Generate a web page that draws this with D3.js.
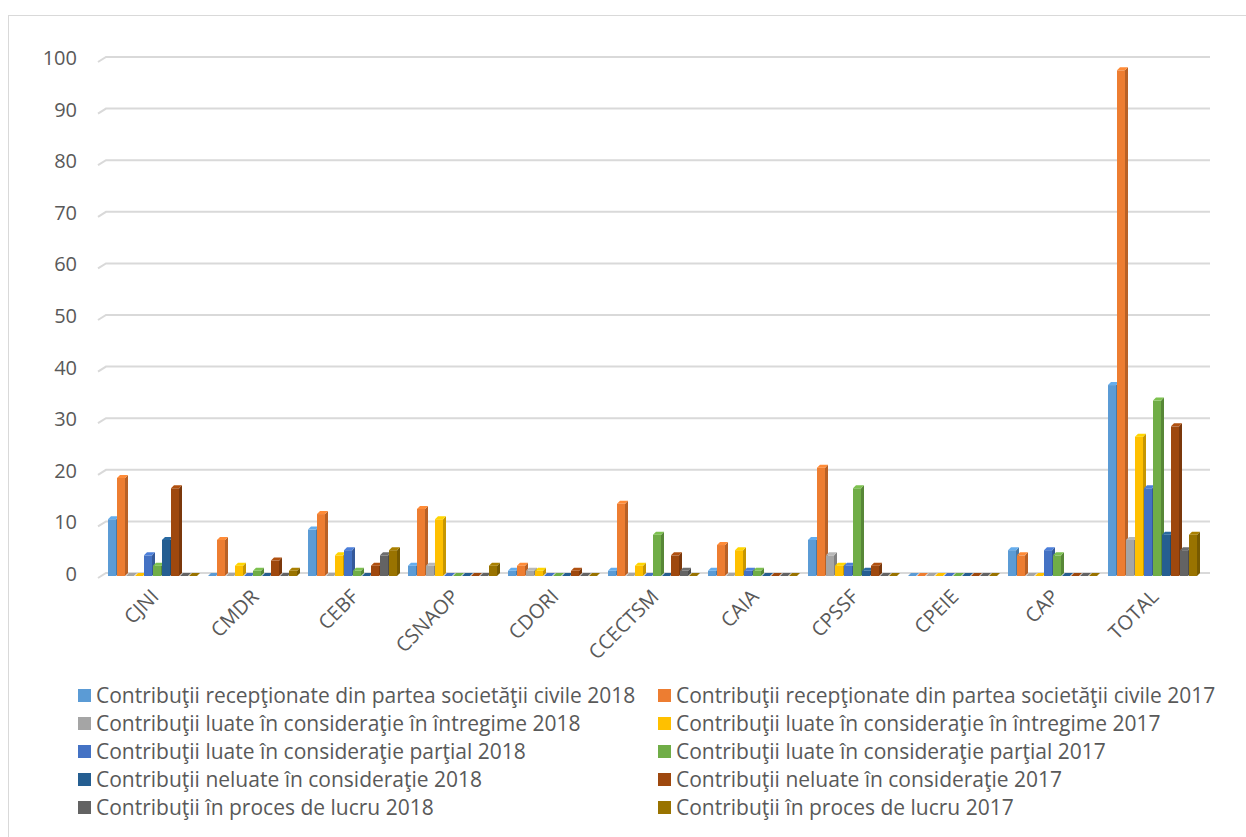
<!DOCTYPE html>
<html>
<head>
<meta charset="utf-8">
<script src="https://cdn.jsdelivr.net/npm/d3@7"></script>
<style>
  body { margin: 0; background: #fff; }
  text { font-family: "Open Sans", Lato, sans-serif; fill: #595959; }
</style>
</head>
<body>
<svg id="chart" width="1246" height="837"></svg>
<script>
const categories = ["CJNI", "CMDR", "CEBF", "CSNAOP", "CDORI", "CCECTSM", "CAIA", "CPSSF", "CPEIE", "CAP", "TOTAL"]

const seriesNames = [
  "Contribuţii recepţionate din partea societăţii civile 2018",
  "Contribuţii recepţionate din partea societăţii civile 2017",
  "Contribuţii luate în consideraţie în întregime 2018",
  "Contribuţii luate în consideraţie în întregime 2017",
  "Contribuţii luate în consideraţie parţial 2018",
  "Contribuţii luate în consideraţie parţial 2017",
  "Contribuţii neluate în consideraţie 2018",
  "Contribuţii neluate în consideraţie 2017",
  "Contribuţii în proces de lucru 2018",
  "Contribuţii în proces de lucru 2017"
]

const colors = ["#5b9bd5", "#ed7d31", "#a5a5a5", "#ffc000", "#4472c4", "#70ad47", "#255e91", "#9e480e", "#636363", "#997300"]

const receptionate2018 = [11, 0, 9, 2, 1, 1, 1, 7, 0, 5, 37]
const receptionate2017 = [19, 7, 12, 13, 2, 14, 6, 21, 0, 4, 98]
const intregime2018 = [0, 0, 0, 2, 1, 0, 0, 4, 0, 0, 7]
const intregime2017 = [0, 2, 4, 11, 1, 2, 5, 2, 0, 0, 27]
const partial2018 = [4, 0, 5, 0, 0, 0, 1, 2, 0, 5, 17]
const partial2017 = [2, 1, 1, 0, 0, 8, 1, 17, 0, 4, 34]
const neluate2018 = [7, 0, 0, 0, 0, 0, 0, 1, 0, 0, 8]
const neluate2017 = [17, 3, 2, 0, 1, 4, 0, 2, 0, 0, 29]
const proces2018 = [0, 0, 4, 0, 0, 1, 0, 0, 0, 0, 5]
const proces2017 = [0, 1, 5, 2, 0, 0, 0, 0, 0, 0, 8]

const yTicks = [0, 10, 20, 30, 40, 50, 60, 70, 80, 90, 100]

const series = [receptionate2018, receptionate2017, intregime2018, intregime2017,
  partial2018, partial2017, neluate2018, neluate2017, proces2018, proces2017]

const svg = d3.select('#chart')

// outer frame
svg.append('rect')
  .attr('x', 8.5).attr('y', 15.5)
  .attr('width', 1300).attr('height', 900)
  .attr('fill', 'none').attr('stroke', '#d9d9d9')

const dx = 3, dy = 3   // depth offset of the 3d look

const x = d3.scaleBand()
  .domain(categories)
  .range([103, 1203])
  .paddingInner(0.1)
  .paddingOuter(0.05)

const x1 = d3.scaleBand()
  .domain(d3.range(series.length))
  .range([0, x.bandwidth()])

const y = d3.scaleLinear()
  .domain([0, 100])
  .range([576, 60])

// gridlines on the back wall, with little slant at the left
const grid = svg.append('g')
yTicks.forEach(t => {
  const yy = y(t) - dy
  grid.append('path')
    .attr('d', `M98,${yy + 5} L${98 + 8},${yy} L1210,${yy}`)
    .attr('fill', 'none')
    .attr('stroke', '#d9d9d9')
    .attr('stroke-width', 2)
})

const yAxis = d3.axisLeft(y).tickValues(yTicks).tickSize(0).tickPadding(0)
svg.append('g')
  .attr('transform', 'translate(77, -2)')
  .call(yAxis)
  .call(g => g.select('.domain').remove())
  .selectAll('text')
  .attr('font-size', 20)
  .attr('font-family', '"Open Sans", sans-serif')
  .style('fill', '#595959')

// bars
const bw = 8
const bars = svg.append('g')
categories.forEach((c, ci) => {
  series.forEach((s, si) => {
    const v = s[ci]
    const col = colors[si]
    const x0 = x(c) + x1(si)
    const y0 = y(0)
    const yt = y(v)
    const g = bars.append('g')
    if (v > 0) {
      g.append('rect')
        .attr('x', x0).attr('y', yt)
        .attr('width', bw).attr('height', y0 - yt)
        .attr('fill', col)
      g.append('path')
        .attr('d', `M${x0 + bw},${yt} L${x0 + bw + dx},${yt - dy} L${x0 + bw + dx},${y0 - dy} L${x0 + bw},${y0} Z`)
        .attr('fill', d3.color(col).darker(0.7))
    }
    g.append('path')
      .attr('d', `M${x0},${yt} L${x0 + dx},${yt - dy} L${x0 + bw + dx},${yt - dy} L${x0 + bw},${yt} Z`)
      .attr('fill', v > 0 ? d3.color(col).brighter(0.3) : col)
  })
})

// category labels
const xAxis = svg.append('g')
categories.forEach(c => {
  xAxis.append('text')
    .attr('transform', `translate(${x(c) + x.bandwidth() / 2 - 3}, 588) rotate(-45)`)
    .attr('text-anchor', 'end')
    .attr('dy', '0.7em')
    .attr('font-size', 20)
    .text(c)
})

// legend
const legend = svg.append('g')
seriesNames.forEach((name, i) => {
  const col = i % 2
  const row = Math.floor(i / 2)
  const lx = col === 0 ? 78 : 658
  const ly = 696 + row * 28
  legend.append('rect')
    .attr('x', lx).attr('y', ly - 7)
    .attr('width', 13).attr('height', 13)
    .attr('fill', colors[i])
  legend.append('text')
    .attr('x', lx + 18).attr('y', ly)
    .attr('dy', '0.35em')
    .attr('font-size', 21)
    .text(name)
})
</script>
</body>
</html>
